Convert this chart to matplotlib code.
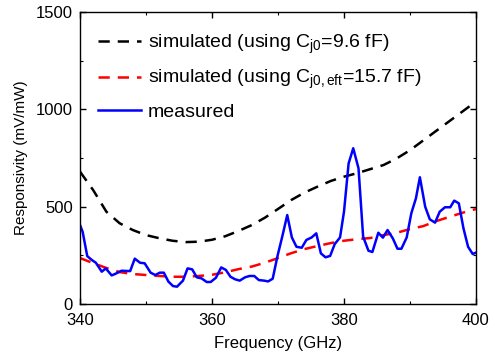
import matplotlib
matplotlib.use("Agg")
import matplotlib.pyplot as plt
from matplotlib.ticker import MultipleLocator

plt.rcParams['font.family'] = ['Liberation Sans', 'DejaVu Sans']
plt.rcParams['mathtext.fontset'] = 'custom'
plt.rcParams['mathtext.rm'] = 'Liberation Sans'
plt.rcParams['mathtext.it'] = 'Liberation Sans'

# simulated with Cj0 = 9.6 fF
sim1_f = [340, 342, 344, 346, 348, 350, 352, 354, 356, 358, 360, 362, 364, 366, 368,
          370, 372, 374, 376, 378, 380, 382, 384, 386, 388, 390, 392, 394, 396, 398, 400]
sim1_v = [680, 585, 474, 415, 380, 354, 338, 325, 318, 320, 330, 348, 375, 405, 443,
          488, 534, 572, 603, 632, 654, 672, 693, 714, 748, 790, 840, 890, 940, 990, 1040]

# simulated with Cj0,eft = 15.7 fF
sim2_f = sim1_f
sim2_v = [236, 210, 185, 164, 154, 149, 144, 140, 140, 144, 150, 163, 179, 192, 212,
          236, 261, 282, 298, 313, 325, 333, 339, 354, 366, 385, 400, 426, 448, 469, 488]

# measured
meas_f = [340.0, 340.4, 341.1, 341.8, 342.4, 343.3, 343.9, 344.8, 345.3, 346.3, 347.6,
          348.3, 349.1, 349.8, 350.7, 351.4, 352.1, 352.7, 353.4, 354.1, 354.7, 355.6,
          356.3, 357.0, 357.7, 358.4, 359.2, 359.8, 360.6, 361.4, 362.1, 362.8, 363.5,
          364.2, 365.0, 365.7, 366.4, 367.1, 367.9, 368.5, 369.2, 369.9, 370.7, 371.4,
          372.1, 372.8, 373.6, 374.3, 375.1, 375.8, 376.5, 377.2, 377.9, 378.6, 379.4,
          380.0, 380.7, 381.4, 382.2, 382.9, 383.7, 384.3, 385.2, 385.9, 386.6, 387.4,
          388.1, 388.7, 389.5, 390.2, 390.9, 391.5, 392.3, 393.0, 393.8, 394.5, 395.3,
          396.1, 396.7, 397.4, 398.1, 398.8, 399.5, 400.0]
meas_v = [406, 371, 246, 226, 212, 166, 183, 147, 154, 171, 169,
          233, 212, 209, 161, 149, 161, 161, 115, 92, 89, 120,
          183, 178, 137, 132, 113, 113, 135, 188, 175, 140, 127,
          120, 137, 144, 144, 123, 120, 116, 130, 243, 354, 457,
          342, 294, 289, 329, 342, 363, 260, 240, 247, 308, 342,
          474, 722, 800, 697, 346, 274, 267, 366, 341, 380, 337,
          284, 284, 342, 466, 543, 651, 500, 435, 418, 474, 497,
          497, 531, 517, 389, 294, 257, 264]

labels = [r'simulated (using C$_{\mathrm{j0}}$=9.6 fF)',
          r'simulated (using C$_{\mathrm{j0,eft}}$=15.7 fF)',
          'measured']

fig = plt.figure(figsize=(4.95, 3.62), dpi=100)
ax = fig.add_axes([0.1616, 0.1602, 0.8, 0.8067])

ax.plot(sim1_f, sim1_v, color='black', lw=1.8, dashes=(4.5, 3.2), label=labels[0])
ax.plot(sim2_f, sim2_v, color='#ff0000', lw=1.8, dashes=(4.5, 3.2), label=labels[1])
ax.plot(meas_f, meas_v, color='#0000ff', lw=1.8, label=labels[2])

ax.set_xlim(340, 400)
ax.set_ylim(0, 1500)
ax.set_xticks([340, 360, 380, 400])
ax.set_yticks([0, 500, 1000, 1500])
ax.xaxis.set_minor_locator(MultipleLocator(10))
ax.yaxis.set_minor_locator(MultipleLocator(250))
ax.tick_params(which='both', direction='in', top=True, right=True, labelsize=12)
ax.tick_params(which='major', length=4, width=1)
ax.tick_params(axis='x', which='major', pad=6.5)
ax.tick_params(axis='y', which='major', pad=5)
ax.tick_params(which='minor', length=2.5, width=0.8)
for s in ax.spines.values():
    s.set_linewidth(1.0)

ax.set_xlabel('Frequency (GHz)', fontsize=12, labelpad=6)
ax.set_ylabel('Responsivity (mV/mW)', fontsize=11, labelpad=6)

leg = ax.legend(loc='upper left', frameon=False, fontsize=14, handlelength=2.2,
                handletextpad=0.35, labelspacing=0.62, borderaxespad=0.0,
                bbox_to_anchor=(0.026, 0.955))

fig.savefig('out.png', dpi=100)
